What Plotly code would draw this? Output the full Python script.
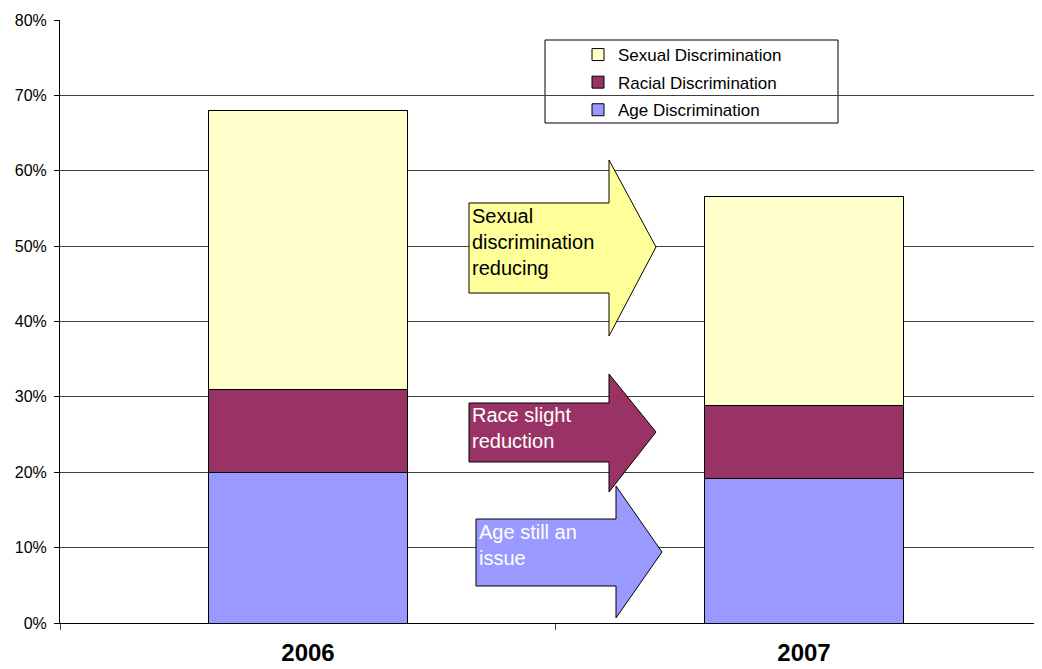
import plotly.graph_objects as go

years = ["2006", "2007"]
age = [20.0, 19.2]
racial = [11.0, 9.7]
sexual = [37.0, 27.7]
series_names = ["Age Discrimination", "Racial Discrimination", "Sexual Discrimination"]
series_colors = ["#9999FF", "#993366", "#FFFFCC"]
y_ticks = [0, 10, 20, 30, 40, 50, 60, 70, 80]
y_ticktext = [f"{v}%" for v in y_ticks]

# page body has an 8px margin; compensate so the figure fills the window
OFF = 8
W, H = 1042, 669 - OFF
ML, MR, MT, MB = 60 - OFF, 0, 20 - OFF, 46
PW, PH = W - ML - MR, H - MT - MB
FONT = "Liberation Sans, Arial"

def px(x):
    return (x - OFF - ML) / PW

def py(y):
    return (H - MB - (y - OFF)) / PH

fig = go.Figure()
for i, (name, vals, col) in enumerate(zip(series_names, [age, racial, sexual], series_colors)):
    fig.add_trace(go.Bar(
        x=years, y=vals, name=name, marker=dict(color=col, line=dict(color="black", width=1)),
        width=0.403, legendgroup=f"g{i}", legendrank=1000 - i))

def arrow(bl, bt, bb, hx, ht, hb, tx, ty, fill):
    pts = [(bl, bt), (hx, bt), (hx, ht), (tx, ty), (hx, hb), (hx, bb), (bl, bb)]
    path = "M " + " L ".join(f"{px(a):.5f},{py(b):.5f}" for a, b in pts) + " Z"
    fig.add_shape(type="path", path=path, xref="paper", yref="paper",
                  fillcolor=fill, line=dict(color="black", width=1), layer="above")

arrow(469, 203, 293, 609, 160, 336, 656, 247, "#FFFF99")
arrow(469, 403, 462, 609, 374, 492, 656, 432, "#993366")
arrow(476, 519, 586, 616, 486, 618, 662, 552, "#9999FF")

def label(x, y, text, color):
    fig.add_annotation(x=px(x), y=py(y), xref="paper", yref="paper", text=text,
                       showarrow=False, xanchor="left", yanchor="top", align="left",
                       font=dict(family=FONT, size=20, color=color))

label(470, 203, "Sexual<br>discrimination<br>reducing", "black")
label(470, 402, "Race slight<br>reduction", "white")
label(477, 519, "Age still an<br>issue", "white")

# legend box
fig.add_shape(type="rect", xref="paper", yref="paper", x0=px(545), x1=px(838), y0=py(40), y1=py(123),
              fillcolor="white", line=dict(color="black", width=1), layer="below")

fig.update_layout(
    width=W, height=H, margin=dict(l=ML, r=MR, t=MT, b=MB, autoexpand=False),
    barmode="stack", plot_bgcolor="rgba(0,0,0,0)", paper_bgcolor="white",
    font=dict(family=FONT, size=16, color="black"),
    legend=dict(x=px(578), y=py(37), xanchor="left", yanchor="top", traceorder="grouped",
                bgcolor="rgba(0,0,0,0)", borderwidth=0, tracegroupgap=2.5,
                font=dict(size=17), itemwidth=30),
    showlegend=True,
)
fig.update_xaxes(type="category", range=[-0.5, 1.496], tickson="boundaries", ticks="outside",
                 ticklen=6, tickcolor="#404040", showline=True, linecolor="black", linewidth=1,
                 showgrid=False, automargin=False,
                 tickfont=dict(size=24, family=FONT, color="black", weight="bold"),
                 ticklabelstandoff=8)
fig.update_yaxes(range=[0, 80], tickmode="array", tickvals=y_ticks, ticktext=y_ticktext,
                 ticks="outside", ticklen=5, automargin=False,
                 tickcolor="black", showline=True, linecolor="black", linewidth=1,
                 showgrid=True, gridcolor="#404040", gridwidth=1, zeroline=False,
                 tickfont=dict(size=16), ticklabelstandoff=4)

fig.write_html("out.html")
